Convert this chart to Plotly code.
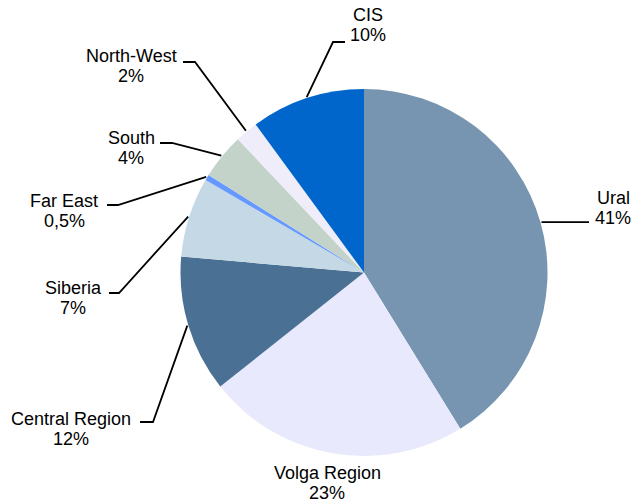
import math
import plotly.graph_objects as go

W, H = 633, 502

# ---- data ----
regions = ["Ural", "Volga Region", "Central Region", "Siberia", "Far East", "South", "North-West", "CIS"]
shares = [41, 23, 12, 7, 0.5, 4, 2, 10]
share_labels = ["41%", "23%", "12%", "7%", "0,5%", "4%", "2%", "10%"]
colors = ["#7795B0", "#E9E9FD", "#4A7094", "#C4D9E5", "#6699FF", "#C4D3C9", "#EEEDF9", "#0066CC"]

# ---- layout (pixels) ----
CX, CY, R = 364, 272.5, 183.5
LINE_GAP = 20
# label placement: (elbow_x, elbow_y, end_x, text_center_x, first_line_center_y)
label_layout = {
    "Ural":           (None, None, 589, 613, 198),
    "Volga Region":   ("none", None, None, 327, 473),
    "Central Region": (153, 422, 140, 71, 419),
    "Siberia":        (119, 293, 109, 73, 288),
    "Far East":       (118, 205, 107, 64, 201),
    "South":          (172, 143, 160, 131, 138),
    "North-West":     (195, 62, 183, 131, 56),
    "CIS":            (333, 42, 345, 368, 15),
}
FONT = dict(family="Liberation Sans, Arial, sans-serif", size=18, color="#000000")

def px(x):
    return x / W

def py(y):
    return 1 - y / H

fig = go.Figure(go.Pie(
    labels=regions,
    values=shares,
    sort=False,
    direction="clockwise",
    rotation=0,
    marker=dict(colors=colors, line=dict(width=0)),
    textinfo="none",
    hoverinfo="label+percent",
    domain=dict(x=[px(CX - R), px(CX + R)], y=[py(CY + R), py(CY - R)]),
    showlegend=False,
))

total = sum(shares)
cum = 0
shapes = []
annotations = []
for name, v, lab in zip(regions, shares, share_labels):
    mid = (cum + v / 2) / total * 2 * math.pi
    cum += v
    sx = CX + (R + 1) * math.sin(mid)
    sy = CY - (R + 1) * math.cos(mid)
    ex, ey, hx, tx, ty = label_layout[name]
    if ex == "none":
        pass
    elif ex is None:
        shapes.append(dict(type="path", xref="paper", yref="paper",
                           path=f"M {px(sx)},{py(sy)} L {px(hx)},{py(sy)}",
                           line=dict(color="black", width=1.8)))
    else:
        shapes.append(dict(type="path", xref="paper", yref="paper",
                           path=f"M {px(sx)},{py(sy)} L {px(ex)},{py(ey)} L {px(hx)},{py(ey)}",
                           line=dict(color="black", width=1.8)))
    for i, t in enumerate([name, lab]):
        annotations.append(dict(xref="paper", yref="paper", x=px(tx), y=py(ty + i * LINE_GAP),
                                text=t, showarrow=False,
                                xanchor="center", yanchor="middle", align="center",
                                font=FONT))

fig.update_layout(
    width=W, height=H,
    margin=dict(l=0, r=0, t=0, b=0),
    paper_bgcolor="white",
    plot_bgcolor="white",
    shapes=shapes,
    annotations=annotations,
)

fig.write_html("out.html", config={"displayModeBar": False},
               post_script="document.body.style.margin='0';document.body.style.overflow='hidden';")
